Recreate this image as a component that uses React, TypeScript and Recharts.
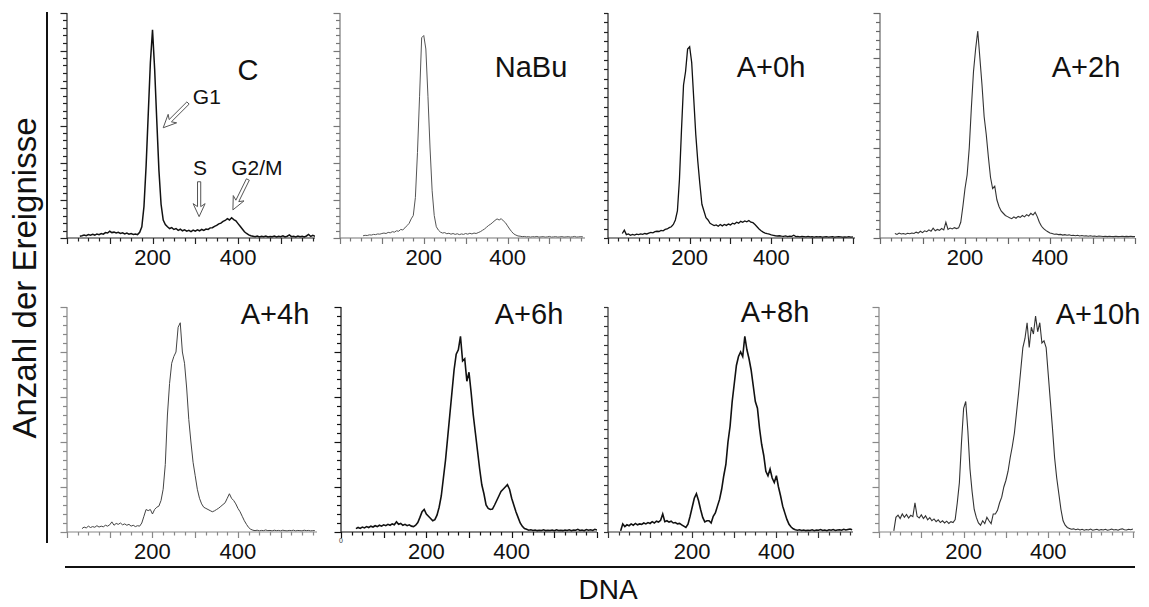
import React from 'react'
import { Line, LineChart, ReferenceDot, ReferenceLine, XAxis, YAxis } from 'recharts'

const FONT = '"Liberation Sans", Arial, Helvetica, sans-serif'

// DNA channel, shared by all eight histograms
const channels = [
  30, 35, 40, 45, 50, 55, 60, 65, 70, 75,
  80, 85, 90, 95, 100, 105, 110, 115, 120, 125,
  130, 135, 140, 145, 150, 155, 160, 165, 170, 175,
  180, 185, 190, 195, 200, 205, 210, 215, 220, 225,
  230, 235, 240, 245, 250, 255, 260, 265, 270, 275,
  280, 285, 290, 295, 300, 305, 310, 315, 320, 325,
  330, 335, 340, 345, 350, 355, 360, 365, 370, 375,
  380, 385, 390, 395, 400, 405, 410, 415, 420, 425,
  430, 435, 440, 445, 450, 455, 460, 465, 470, 475,
  480, 485, 490, 495, 500, 505, 510, 515, 520, 525,
  530, 535, 540, 545, 550, 555, 560, 565, 570, 575,
  580, 585, 590, 595, 600,
]

// Anzahl der Ereignisse, in % of the panel's y-axis height
const countsC = [
  0.8, 1.0, 1.3, 1.0, 1.5, 1.2, 1.6, 1.3, 1.8, 1.5,
  2.0, 1.7, 2.4, 2.2, 3.0, 2.4, 2.6, 2.2, 2.5, 2.0,
  2.3, 1.8, 2.2, 1.7, 2.0, 1.6, 1.8, 1.5, 2.5, 5,
  14, 32, 55, 78, 92.5, 75, 52, 30, 15, 8,
  6.0, 5.0, 4.2, 4.6, 3.8, 4.2, 3.4, 3.9, 3.2, 3.6,
  3.0, 3.4, 2.8, 3.5, 3.0, 3.6, 3.2, 3.8, 3.4, 4.0,
  3.8, 4.5, 4.6, 5.2, 5.6, 6.3, 6.6, 7.4, 7.8, 8.6,
  8.0, 9.0, 8.2, 7.6, 6.4, 5.2, 4.0, 2.8, 2.0, 1.4,
  1.0, 0.8, 0.6, 0.9, 0.5, 0.8, 0.6, 0.9, 0.5, 0.7,
  0.6, 0.9, 0.5, 0.8, 0.6, 1.0, 0.5, 0.8, 1.4, 0.6,
  0.8, 0.5, 0.9, 0.6, 0.8, 0.5, 0.9, 1.6, 0.7, 1.2,
  0.8, null, null, null, null,
]

const countsNaBu = [
  null, null, null, null, null, 1.0, 1.2, 1.1, 1.4, 1.3,
  1.6, 1.5, 1.8, 1.7, 2.0, 2.2, 2.0, 2.5, 2.3, 2.8,
  2.6, 3.2, 3.0, 3.8, 3.6, 4.5, 5.5, 6.5, 8.5, 10,
  18, 38, 63, 89, 90, 84, 63, 40, 21, 10,
  5, 3.5, 2.6, 2.2, 2.4, 1.9, 2.1, 1.7, 2.0, 1.6,
  1.9, 1.5, 1.8, 1.6, 2.0, 1.7, 2.1, 1.8, 2.2, 2.0,
  2.4, 2.8, 3.4, 4.0, 4.8, 5.6, 6.2, 7.0, 7.8, 8.5,
  8.0, 8.6, 7.6, 6.8, 5.4, 4.0, 2.8, 1.8, 1.3, 0.9,
  0.8, 0.6, 0.7, 0.5, 0.6, 0.4, 0.6, 0.5, 0.7, 0.4,
  0.5, 0.6, 0.4, 0.5, 0.7, 0.4, 0.5, 0.6, 0.4, 0.5,
  0.6, 0.4, 0.5, 0.6, 0.4, 0.5, 0.7, 0.4, 0.5, 0.6,
  0.5, null, null, null, null,
]

const countsA0 = [
  null, 2.0, 3.5, 1.5, 1.8, 1.2, 1.6, 1.3, 1.7, 1.5,
  1.8, 1.6, 2.0, 1.8, 2.2, 2.5, 2.3, 2.8, 3.0, 2.9,
  3.4, 3.2, 3.8, 4.0, 4.6, 5.0, 6.0, 8, 12, 26,
  48, 68, 74, 84, 85, 78, 62, 46, 34, 24,
  15, 12, 9, 8, 6.5, 6, 5.5, 5.8, 5.2, 6.0,
  5.4, 6.0, 5.6, 6.2, 5.8, 6.6, 6.2, 7.0, 6.6, 7.4,
  7.0, 7.6, 7.2, 7.8, 7.0, 6.8, 6.0, 5.0, 4.0, 3.2,
  2.6, 2.2, 1.9, 1.7, 1.4, 1.2, 1.0, 0.9, 1.0, 0.8,
  0.7, 0.9, 0.6, 0.8, 0.7, 1.2, 0.6, 0.7, 0.5, 0.7,
  0.6, 0.5, 0.7, 0.5, 0.6, 0.4, 0.6, 0.5, 0.6, 0.4,
  0.5, 0.6, 0.4, 0.5, 0.6, 0.4, 0.5, 0.6, 0.5, 0.4,
  0.5, 0.4, 0.6, 0.4, 0.5,
]

const countsA2 = [
  null, 2.0, 1.6, 2.2, 1.8, 2.0, 1.7, 2.1, 1.9, 2.2,
  2.0, 2.6, 2.2, 3.0, 2.4, 3.2, 2.8, 3.6, 3.0, 4.4,
  3.2, 3.8, 3.4, 4.2, 3.6, 7.0, 3.8, 4.4, 4.0, 4.6,
  4.2, 4.5, 7, 14, 22, 28, 40, 58, 74, 84,
  92, 80, 68, 54, 46, 36, 27, 22, 23, 17,
  14, 12, 11, 10, 9.5, 9, 8.6, 9.4, 8.8, 9.6,
  9.2, 10, 9.4, 10.4, 9.8, 11, 10.2, 11.4, 9.5, 7,
  5.2, 4.2, 3.4, 2.8, 2.2, 2.0, 1.7, 1.8, 1.5, 1.6,
  1.3, 1.5, 1.2, 1.4, 1.1, 1.2, 1.0, 1.2, 0.9, 1.1,
  0.9, 1.0, 0.8, 1.0, 0.8, 0.9, 0.7, 0.9, 0.8, 0.7,
  0.8, 0.6, 0.8, 0.7, 0.6, 0.8, 0.6, 0.7, 0.8, 0.6,
  0.7, 0.6, 0.8, 0.6, 0.7,
]

const countsA4 = [
  null, 1.5, 2.2, 1.8, 2.6, 2.0, 2.4, 2.1, 2.8, 2.2,
  2.6, 2.3, 3.0, 2.6, 3.2, 4.5, 3.0, 3.8, 3.4, 4.0,
  3.2, 3.6, 3.0, 3.4, 2.6, 3.0, 2.4, 2.8, 2.6, 4.0,
  7, 10, 9.5, 10, 8, 10, 11, 11.5, 14, 19,
  30, 52, 66, 75, 78, 80, 91, 93, 80, 75,
  64, 50, 40, 31, 25, 19, 15, 12.5, 11, 10.5,
  10, 9.5, 9, 9.4, 10, 10.6, 11.4, 12.2, 13, 15,
  17, 15, 14, 12.5, 10.5, 9, 7, 5, 3.4, 2,
  1.2, 0.8, 0.6, 0.8, 0.5, 0.7, 0.6, 0.9, 0.6, 0.7,
  0.5, 0.8, 0.6, 0.7, 0.5, 0.8, 0.6, 0.5, 0.7, 0.6,
  0.8, 0.5, 0.7, 0.6, 0.5, 0.8, 0.6, 0.7, 0.5, 0.6,
  0.6, null, null, null, null,
]

const countsA6 = [
  null, 1.5, 2.0, 1.6, 2.2, 1.8, 2.4, 2.0, 2.6, 2.2,
  2.8, 2.4, 3.0, 2.6, 3.2, 2.8, 3.4, 3.0, 3.6, 3.2,
  4.5, 3.4, 3.8, 3.0, 3.4, 2.8, 3.2, 2.6, 2.4, 3.0,
  4.2, 6.5, 9, 10, 8, 7, 6, 5, 5.5, 7.5,
  11, 16, 24, 32, 42, 52, 62, 72, 79, 81,
  87, 76, 77, 67, 71, 62, 52, 44, 36, 28,
  21, 17, 12, 10.5, 10, 10.2, 12, 14, 16, 18,
  19, 20, 21, 19, 15, 12, 9, 6.5, 4, 2.5,
  1.5, 1.2, 0.8, 1.0, 0.7, 0.9, 0.6, 0.8, 0.7, 1.0,
  0.6, 0.8, 0.7, 0.9, 0.6, 1.0, 0.7, 0.8, 0.6, 0.9,
  0.7, 1.0, 0.6, 0.9, 0.8, 1.2, 0.7, 0.9, 0.6, 1.1,
  0.8, 1.0, 0.7, 1.2, 0.9,
]

const countsA8 = [
  0.5, 3.6, 2.4, 3.2, 2.8, 3.6, 3.0, 3.8, 3.2, 3.6,
  3.4, 4.0, 3.6, 4.2, 3.8, 4.6, 4.0, 4.8, 4.4, 5.2,
  8.0, 4.6, 5.0, 4.4, 4.8, 4.0, 4.2, 3.6, 3.8, 3.2,
  2.6, 2.0, 3.5, 7, 11, 15, 17, 14, 10, 6.5,
  4.5, 5, 5, 4, 7, 8.5, 11.5, 14.5, 19, 25,
  30, 40, 47, 58, 66, 74, 78, 80, 78, 87,
  81, 77, 72, 65, 58, 55, 46, 39, 34, 27,
  25, 28, 24, 22, 25, 20, 16, 11.5, 8.5, 5.6,
  3.4, 2.2, 1.4, 1.0, 0.8, 1.0, 0.7, 0.9, 0.6, 0.8,
  0.7, 1.0, 0.6, 0.9, 0.8, 1.1, 0.7, 0.9, 0.6, 1.0,
  0.8, 1.1, 0.7, 0.9, 1.0, 0.8, 1.2, 0.9, 1.1, 1.3,
  1.0, null, null, null, null,
]

const countsA10 = [
  null, 0.5, 6.5, 7.5, 6.0, 8.0, 6.5, 7.8, 6.2, 7.4,
  6.8, 13, 7.0, 6.2, 7.6, 6.0, 7.2, 5.4, 6.4, 5.0,
  5.8, 4.6, 5.4, 4.2, 5.0, 4.0, 4.8, 3.8, 4.6, 4.2,
  5.5, 13, 22, 40, 55, 58, 45, 28, 18, 10,
  6.5, 4.0, 3.0, 5.0, 3.7, 6.5, 5.0, 3.7, 8.0, 8.0,
  9.6, 13, 15.5, 20, 23, 27, 33, 38, 44, 53,
  62, 72, 82, 86, 93, 82, 91, 88, 96, 89,
  93, 84, 85, 82, 70, 58, 46, 33, 24, 17,
  10, 5, 3, 2, 1.6, 1.2, 1.4, 1.0, 1.3, 0.9,
  1.2, 0.8, 1.1, 0.9, 1.3, 0.8, 1.0, 1.2, 0.8, 1.1,
  0.9, 1.2, 0.8, 1.0, 1.3, 0.9, 1.1, 0.8, 1.2, 1.4,
  1.0, 0.9, 1.2, 1.0, 1.3,
]

const xTicks = [
  0, 25, 50, 75, 100, 125, 150, 175, 200, 225, 250, 275,
  300, 325, 350, 375, 400, 425, 450, 475, 500, 525, 550, 575, 600,
]
const xTickLabels = [200, 400]

const panels = [
  { title: 'C', values: countsC, x0: 67, top: 13, w: 248, xMax: 580, yDiv: 30, major: 5, stroke: '#111', sw: 1.5, axis: '#222', tx: 248, ty: 70, notes: true },
  { title: 'NaBu', values: countsNaBu, x0: 340, top: 13, w: 245, xMax: 585, yDiv: 30, major: 5, stroke: '#555', sw: 1, axis: '#777', tx: 531, ty: 67 },
  { title: 'A+0h', values: countsA0, x0: 608, top: 13, w: 247, xMax: 605, yDiv: 24, major: 0, stroke: '#111', sw: 1.3, axis: '#222', tx: 771, ty: 67 },
  { title: 'A+2h', values: countsA2, x0: 880, top: 13, w: 255, xMax: 600, yDiv: 25, major: 5, stroke: '#333', sw: 1.1, axis: '#666', tx: 1086, ty: 67 },
  { title: 'A+4h', values: countsA4, x0: 67, top: 307, w: 250, xMax: 585, yDiv: 25, major: 5, stroke: '#444', sw: 1, axis: '#888', tx: 275, ty: 314 },
  { title: 'A+6h', values: countsA6, x0: 341, top: 307, w: 256, xMax: 600, yDiv: 25, major: 5, stroke: '#111', sw: 1.6, axis: '#111', tx: 529, ty: 314, zero: true },
  { title: 'A+8h', values: countsA8, x0: 608, top: 307, w: 245, xMax: 582, yDiv: 24, major: 0, stroke: '#111', sw: 1.6, axis: '#333', tx: 775, ty: 312 },
  { title: 'A+10h', values: countsA10, x0: 879, top: 307, w: 256, xMax: 605, yDiv: 25, major: 5, stroke: '#333', sw: 1.1, axis: '#888', tx: 1098, ty: 314 },
]

const PLOT_H = 225
const Y_AXIS_W = 20
const X_AXIS_H = 40
const M_TOP = 4
const M_RIGHT = 6

function XTick(props: any) {
  const { x, y, payload, tickColor, zeroLabel } = props
  const v = payload.value
  const len = v % 100 === 0 ? 6 : 3.5
  const px = Math.round(x) + 0.5
  const label = xTickLabels.includes(v) ? String(v) : ''
  return (
    <g>
      <line x1={px} y1={y} x2={px} y2={y + len} stroke={tickColor} strokeWidth={1.2} />
      {label && (
        <text x={x} y={y + 27} textAnchor="middle" fontSize={22} fontFamily={FONT} fill="#111">
          {label}
        </text>
      )}
      {v === 0 && zeroLabel && (
        <text x={x} y={y + 11} textAnchor="middle" fontSize={7} fontFamily={FONT} fill="#333">
          0
        </text>
      )}
    </g>
  )
}

function YTick(props: any) {
  const { x, y, index, tickColor, majorEvery } = props
  const major = majorEvery > 0 && index % majorEvery === 0
  const py = Math.round(y) + 0.5
  return <line x1={x} y1={py} x2={x - (major ? 6.5 : 4)} y2={py} stroke={tickColor} strokeWidth={1.2} />
}

function HollowArrow(props: any) {
  const { x1, y1, x2, y2 } = props
  const dx = x2 - x1
  const dy = y2 - y1
  const len = Math.hypot(dx, dy) || 1
  const ux = dx / len
  const uy = dy / len
  const px = -uy
  const py = ux
  const hw = 1.6
  const hl = 10
  const hh = 6
  const bx = x2 - ux * hl
  const by = y2 - uy * hl
  const pts = [
    [x1 + px * hw, y1 + py * hw],
    [bx + px * hw, by + py * hw],
    [bx + px * hh - ux * 3, by + py * hh - uy * 3],
    [x2, y2],
    [bx - px * hh - ux * 3, by - py * hh - uy * 3],
    [bx - px * hw, by - py * hw],
    [x1 - px * hw, y1 - py * hw],
  ]
  return <polygon points={pts.map((p) => p.join(',')).join(' ')} fill="#fff" stroke="#555" strokeWidth={1} />
}

function Panel({ p }: { p: (typeof panels)[number] }) {
  const rows = channels.map((ch, i) => ({ ch, v: p.values[i] }))
  const yTicks = Array.from({ length: p.yDiv + 1 }, (_, i) => (i * 100) / p.yDiv)
  const ticks = xTicks.filter((t) => t <= p.xMax)
  const noteLabel = (value: string) => ({ value, position: 'center' as const, fontSize: 21, fill: '#111', fontFamily: FONT })
  return (
    <div style={{ position: 'absolute', left: p.x0 - Y_AXIS_W, top: p.top - M_TOP }}>
      <LineChart
        width={p.w + Y_AXIS_W + M_RIGHT}
        height={PLOT_H + M_TOP + X_AXIS_H}
        data={rows}
        margin={{ top: M_TOP, right: M_RIGHT, left: 0, bottom: 0 }}
      >
        <XAxis
          type="number"
          dataKey="ch"
          domain={[0, p.xMax]}
          ticks={ticks}
          interval={0}
          height={X_AXIS_H}
          tickLine={false}
          tickSize={0}
          tickMargin={0}
          axisLine={{ stroke: p.axis, strokeWidth: 1.2 }}
          tick={<XTick tickColor={p.axis} zeroLabel={p.zero} />}
          allowDataOverflow
        />
        <YAxis
          type="number"
          domain={[0, 100]}
          ticks={yTicks}
          interval={0}
          width={Y_AXIS_W}
          tickLine={false}
          tickSize={0}
          tickMargin={0}
          axisLine={{ stroke: p.axis, strokeWidth: 1.2 }}
          tick={<YTick tickColor={p.axis} majorEvery={p.major} />}
          allowDataOverflow
        />
        <Line
          type="linear"
          dataKey="v"
          stroke={p.stroke}
          strokeWidth={p.sw}
          dot={false}
          activeDot={false}
          connectNulls={false}
          isAnimationActive={false}
        />
        {p.notes && (
          <>
            <ReferenceLine segment={[{ x: 283, y: 60 }, { x: 225, y: 49 }]} shape={<HollowArrow />} ifOverflow="visible" />
            <ReferenceLine segment={[{ x: 309, y: 25 }, { x: 309, y: 9.5 }]} shape={<HollowArrow />} ifOverflow="visible" />
            <ReferenceLine segment={[{ x: 423, y: 26 }, { x: 388, y: 12.5 }]} shape={<HollowArrow />} ifOverflow="visible" />
            <ReferenceDot x={327} y={63} r={1} fill="none" stroke="none" ifOverflow="visible" label={noteLabel('G1')} />
            <ReferenceDot x={311} y={31.5} r={1} fill="none" stroke="none" ifOverflow="visible" label={noteLabel('S')} />
            <ReferenceDot x={444} y={31.5} r={1} fill="none" stroke="none" ifOverflow="visible" label={noteLabel('G2/M')} />
          </>
        )}
      </LineChart>
    </div>
  )
}

export default function App() {
  return (
    <div style={{ position: 'fixed', left: 0, top: 0, width: 1149, height: 607, background: '#fff', fontFamily: FONT }}>
      {panels.map((p) => (
        <Panel key={p.title} p={p} />
      ))}
      <svg width={1149} height={607} style={{ position: 'absolute', left: 0, top: 0, pointerEvents: 'none' }}>
        <line x1={47} y1={12} x2={47} y2={543} stroke="#111" strokeWidth={2} />
        <line x1={65} y1={567} x2={1135} y2={567} stroke="#111" strokeWidth={2} />
        <text
          x={24}
          y={278}
          transform="rotate(-90 24 278)"
          textAnchor="middle"
          dominantBaseline="central"
          fontSize={33}
          fontFamily={FONT}
          fill="#111"
        >
          Anzahl der Ereignisse
        </text>
        <text x={608} y={589} textAnchor="middle" dominantBaseline="central" fontSize={28} fontFamily={FONT} fill="#111">
          DNA
        </text>
        {panels.map((p) => (
          <text
            key={p.title}
            x={p.tx}
            y={p.ty}
            textAnchor="middle"
            dominantBaseline="central"
            fontSize={29}
            fontFamily={FONT}
            fill="#111"
          >
            {p.title}
          </text>
        ))}
      </svg>
    </div>
  )
}
